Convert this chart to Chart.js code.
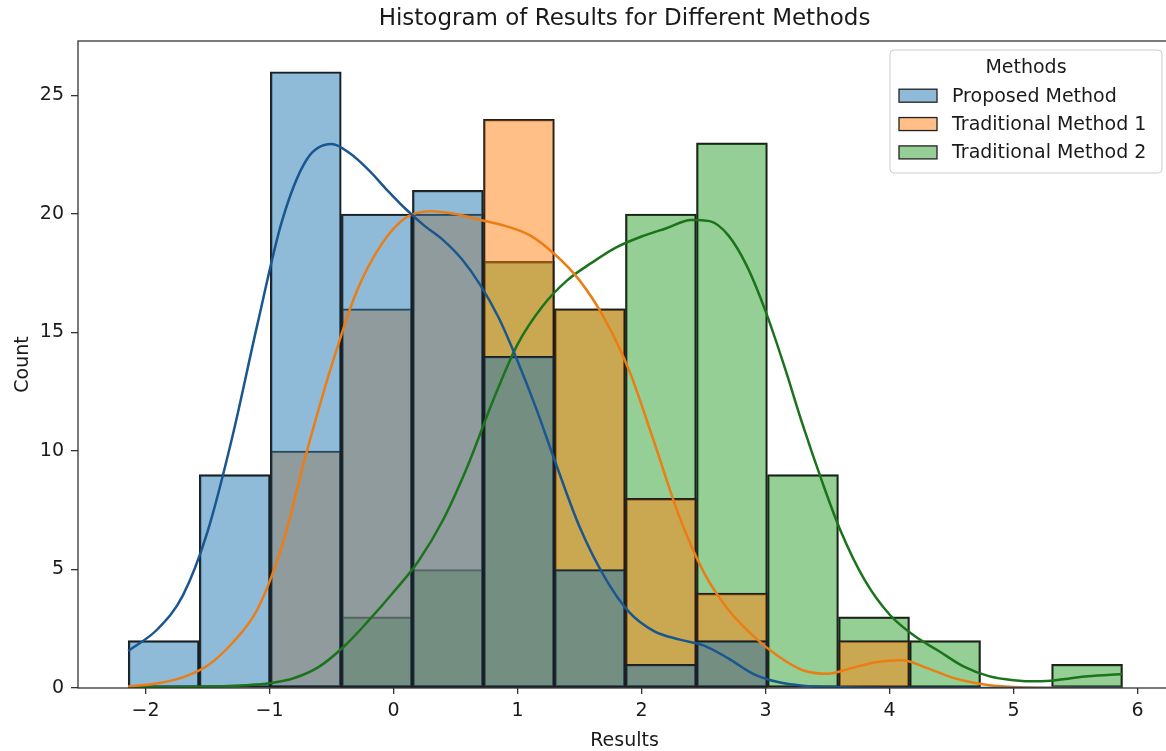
<!DOCTYPE html>
<html>
<head>
<meta charset="utf-8">
<title>Histogram of Results for Different Methods</title>
<script src="https://cdn.jsdelivr.net/npm/chart.js@4.4.1/dist/chart.umd.min.js"></script>
<style>
    html, body { margin: 0; padding: 0; background: #fff; overflow: hidden; }
    #area { width: 1249px; height: 751px; }
</style>
</head>
<body>
<div id="area"><canvas id="grafico" width="1249" height="751"></canvas></div>
<script>
// Dados do histograma (14 classes)
const centrosClasses = [-1.854, -1.281, -0.708, -0.135, 0.438, 1.011, 1.583, 2.156, 2.729, 3.302, 3.875, 4.448, 5.020, 5.593];
const contagemProposto = [2, 9, 26, 20, 21, 14, 5, 1, 2, 0, 0, 0, 0, 0];
const contagemTrad1 = [0, 0, 10, 16, 20, 24, 16, 8, 4, 0, 2, 0, 0, 0];
const contagemTrad2 = [0, 0, 0, 3, 5, 18, 16, 20, 23, 9, 3, 2, 0, 1];

// Curvas KDE
const kdePropostoX = [-2.14, -1.9, -1.7, -1.5, -1.3, -1.1, -0.9, -0.7, -0.5, -0.35, -0.2, -0.05, 0.1, 0.25, 0.4, 0.55, 0.7, 0.85, 1.0, 1.15, 1.3, 1.5, 1.7, 1.9, 2.1, 2.3, 2.5, 2.7, 2.9, 3.1, 3.3, 3.6, 4.0, 5.88];
const kdePropostoY = [1.56, 2.5, 3.9, 6.6, 10.6, 15.3, 19.7, 22.3, 22.95, 22.55, 21.85, 21.0, 20.2, 19.5, 18.9, 18.1, 17.0, 15.6, 13.8, 11.8, 9.6, 6.8, 4.7, 3.2, 2.4, 2.05, 1.8, 1.25, 0.6, 0.25, 0.1, 0.03, 0, 0];

const kdeTrad1X = [-2.14, -1.9, -1.7, -1.5, -1.3, -1.1, -0.9, -0.7, -0.5, -0.3, -0.1, 0.1, 0.3, 0.5, 0.7, 0.9, 1.1, 1.3, 1.5, 1.7, 1.9, 2.1, 2.3, 2.5, 2.7, 2.9, 3.1, 3.3, 3.5, 3.7, 3.9, 4.1, 4.3, 4.5, 4.7, 4.9, 5.1, 5.88];
const kdeTrad1Y = [0.06, 0.2, 0.45, 0.95, 1.9, 3.3, 6.0, 9.97, 13.6, 16.7, 18.7, 19.85, 20.12, 20.0, 19.75, 19.5, 19.1, 18.3, 17.2, 15.6, 13.4, 10.4, 7.3, 4.9, 3.3, 2.2, 1.35, 0.75, 0.6, 0.85, 1.1, 1.17, 0.85, 0.45, 0.2, 0.07, 0.02, 0];

const kdeTrad2X = [-2.14, -1.6, -1.2, -1.0, -0.8, -0.6, -0.4, -0.2, 0.0, 0.2, 0.4, 0.6, 0.8, 1.0, 1.2, 1.4, 1.6, 1.8, 2.0, 2.2, 2.4, 2.55, 2.7, 2.85, 3.0, 3.15, 3.3, 3.45, 3.6, 3.8, 4.0, 4.2, 4.4, 4.6, 4.8, 5.0, 5.2, 5.4, 5.6, 5.88];
const kdeTrad2Y = [0.03, 0.05, 0.12, 0.2, 0.42, 0.9, 1.75, 2.85, 4.05, 5.35, 7.1, 9.4, 12.1, 14.5, 16.1, 17.2, 17.95, 18.6, 19.05, 19.4, 19.75, 19.7, 19.1, 17.8, 15.9, 13.6, 11.1, 8.8, 6.7, 4.55, 3.1, 2.2, 1.55, 0.9, 0.5, 0.33, 0.28, 0.37, 0.5, 0.59];

const ticksX = [-2, -1, 0, 1, 2, 3, 4, 5, 6];
const ticksY = [0, 5, 10, 15, 20, 25];

const titulo = 'Histogram of Results for Different Methods';
const tituloLegenda = 'Methods';
const nomes = ['Proposed Method', 'Traditional Method 1', 'Traditional Method 2'];
const coresBarra = ['rgba(31,119,180,0.5)', 'rgba(255,127,14,0.5)', 'rgba(44,160,44,0.5)'];
const coresLinha = ['#1a5690', '#ec7d14', '#1b741b'];

function barras(contagem) {
    return centrosClasses.map((c, i) => ({ x: c, y: contagem[i] === 0 ? null : contagem[i] }));
}
function curva(xs, ys) {
    return xs.map((x, i) => ({ x: x, y: ys[i] }));
}

Chart.defaults.font.family = 'DejaVu Sans';
Chart.defaults.font.size = 19;
Chart.defaults.color = '#1a1a1a';

// titulo, moldura dos eixos e legenda dentro do grafico
const molduraLegenda = {
    id: 'molduraLegenda',
    afterDraw(chart) {
        const ctx = chart.ctx;
        const a = chart.chartArea;
        ctx.save();
        ctx.strokeStyle = '#333';
        ctx.lineWidth = 1.3;
        ctx.strokeRect(a.left, a.top, a.right - a.left, a.bottom - a.top);

        ctx.fillStyle = '#1a1a1a';
        ctx.font = '23px "DejaVu Sans"';
        ctx.textAlign = 'center';
        ctx.textBaseline = 'middle';
        ctx.fillText(titulo, (a.left + a.right) / 2, 19);

        const bx = a.right - 281, by = a.top + 9, bw = 272, bh = 123;
        ctx.beginPath();
        ctx.roundRect(bx, by, bw, bh, 4);
        ctx.fillStyle = 'rgba(255,255,255,0.8)';
        ctx.fill();
        ctx.strokeStyle = '#cccccc';
        ctx.lineWidth = 1;
        ctx.stroke();

        ctx.fillStyle = '#1a1a1a';
        ctx.font = '19px "DejaVu Sans"';
        ctx.textAlign = 'center';
        ctx.fillText(tituloLegenda, bx + bw / 2, by + 17.7);
        ctx.textAlign = 'left';
        for (let i = 0; i < nomes.length; i++) {
            const y = by + 46.7 + i * 28.35;
            ctx.fillStyle = coresBarra[i];
            ctx.fillRect(bx + 9, y - 7.5, 38, 13);
            ctx.strokeStyle = '#222';
            ctx.lineWidth = 1.3;
            ctx.strokeRect(bx + 9, y - 7.5, 38, 13);
            ctx.fillStyle = '#1a1a1a';
            ctx.fillText(nomes[i], bx + 62, y);
        }
        ctx.restore();
    }
};

const datasetsBarra = [contagemProposto, contagemTrad1, contagemTrad2].map((cont, i) => ({
    type: 'bar',
    label: nomes[i],
    data: barras(cont),
    backgroundColor: coresBarra[i],
    borderColor: '#1e1e1e',
    borderWidth: 1.7,
    borderSkipped: false,
    barPercentage: 1,
    categoryPercentage: 1,
    grouped: false,
    order: 1
}));

const datasetsLinha = [[kdePropostoX, kdePropostoY], [kdeTrad1X, kdeTrad1Y], [kdeTrad2X, kdeTrad2Y]].map((k, i) => ({
    type: 'line',
    label: nomes[i] + ' KDE',
    data: curva(k[0], k[1]),
    borderColor: coresLinha[i],
    borderWidth: 2.5,
    pointRadius: 0,
    fill: false,
    cubicInterpolationMode: 'monotone',
    order: 0
}));

const ctx = document.getElementById('grafico').getContext('2d');
new Chart(ctx, {
    type: 'bar',
    data: { datasets: datasetsBarra.concat(datasetsLinha) },
    plugins: [molduraLegenda],
    options: {
        responsive: false,
        animation: false,
        layout: { padding: { left: 0, right: 78, top: 41, bottom: 0 } },
        plugins: {
            legend: { display: false },
            tooltip: { enabled: false },
            title: { display: false }
        },
        scales: {
            x: {
                type: 'linear',
                min: -2.545,
                max: 6.27,
                offset: false,
                afterFit: (s) => { s.height = 63; },
                afterBuildTicks: (s) => { s.ticks = ticksX.map(v => ({ value: v })); },
                ticks: {
                    padding: 6,
                    callback: (v) => String(v).replace('-', '\u2212')
                },
                grid: { offset: false, drawOnChartArea: false, drawTicks: true, tickLength: 6, color: '#333', lineWidth: 1.3 },
                border: { display: false },
                title: { display: true, text: 'Results', font: { size: 19, lineHeight: 1.0 }, padding: { top: 0, bottom: 0 } }
            },
            y: {
                min: 0,
                max: 27.3,
                afterFit: (s) => { s.width = 78; },
                afterBuildTicks: (s) => { s.ticks = ticksY.map(v => ({ value: v })); },
                ticks: { padding: 7 },
                grid: { drawOnChartArea: false, drawTicks: true, tickLength: 7, color: '#333', lineWidth: 1.3 },
                border: { display: false },
                title: { display: true, text: 'Count', padding: { top: 12, bottom: 0 } }
            }
        }
    }
});
</script>
</body>
</html>
